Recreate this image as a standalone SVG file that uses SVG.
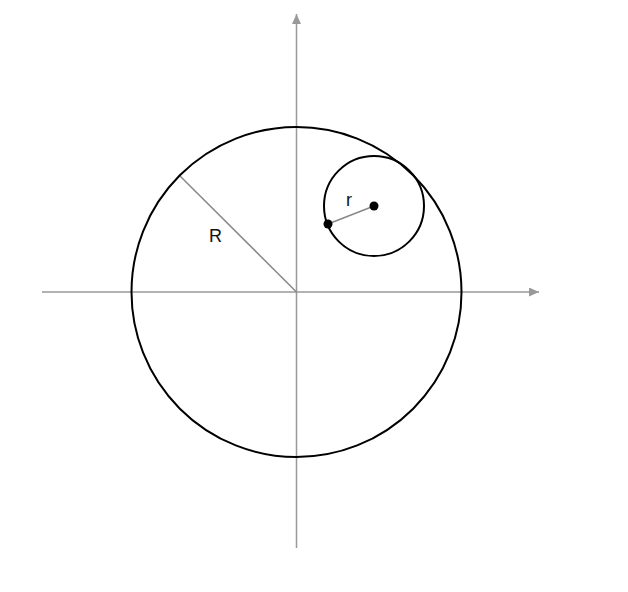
<svg xmlns="http://www.w3.org/2000/svg" width="628" height="592" viewBox="0 0 628 592">
<style>
.axis{stroke:#999;stroke-width:1.5;fill:none}
.circ{stroke:#000;stroke-width:2;fill:none}
.rad{stroke:#888;stroke-width:1.5;fill:none}
.lbl{font-family:"Liberation Sans",Arial,sans-serif;font-size:18px;fill:#111}
</style>
<defs>
<marker id="ah" markerWidth="10" markerHeight="9" refX="10" refY="4.5" orient="auto" markerUnits="userSpaceOnUse">
<path d="M0,0 L10,4.5 L0,9 Z" fill="#999"/>
</marker>
</defs>
<rect width="628" height="592" fill="#fff"/>
<g id="connectors">
<line class="axis" x1="42" y1="292" x2="539" y2="292" marker-end="url(#ah)"/>
<line class="axis" x1="296.5" y1="548" x2="296.5" y2="14" marker-end="url(#ah)"/>
<line class="rad" x1="296.5" y1="292" x2="180" y2="176"/>
<line class="rad" x1="328" y1="224" x2="374" y2="206"/>
</g>
<g id="bigCircle">
<circle class="circ" cx="296.5" cy="292" r="165"/>
<text class="lbl" x="209" y="242">R</text>
</g>
<g id="smallCircle">
<circle class="circ" cx="374" cy="206" r="50"/>
<circle cx="374" cy="206" r="4.5" fill="#000"/>
<circle cx="328" cy="224" r="4.5" fill="#000"/>
<text class="lbl" x="346" y="206">r</text>
</g>
</svg>
